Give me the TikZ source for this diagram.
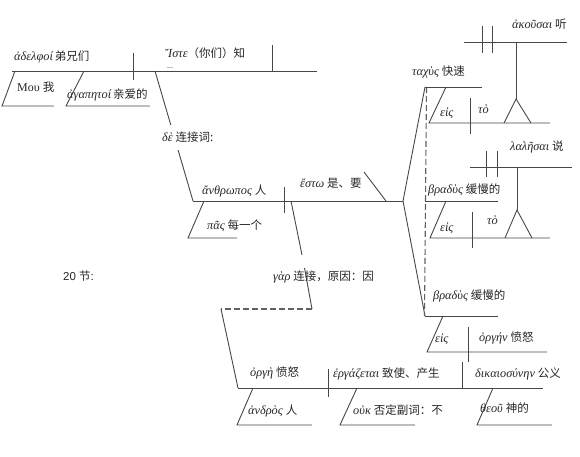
\documentclass[tikz,border=0pt]{standalone}
\usepackage{fontspec}
\setmainfont{Liberation Serif}
\newfontfamily\zhfont{Noto Sans CJK SC}
\newfontfamily\arialfont{Liberation Sans}
\newcommand{\zh}[1]{{\zhfont\fontsize{11.5}{13}\selectfont #1}}
\newcommand{\gr}[1]{{\itshape\fontsize{12.3}{13}\selectfont #1}}
\begin{document}
\begin{tikzpicture}[x=1pt,y=-1pt,
  ln/.style={draw=black!72, line width=0.9pt},
  dsh/.style={draw=black!62, line width=1.1pt, dash pattern=on 6pt off 3pt},
  lbl/.style={anchor=base west, inner sep=0pt, font=\fontsize{11.5}{13}\selectfont, text=black!85}]
\useasboundingbox (0,0) rectangle (580,457);
% ---- verse 19 top clause
\draw[ln] (12,71) -- (317,71);
\draw[ln] (133,53) -- (133,80);
\draw[ln] (272,45) -- (272,71);
\draw[ln] (15,71) -- (2,106) -- (54,106);
\draw[ln] (84,71) -- (66,106) -- (150,106);
\draw[ln] (155,71) -- (193,201);
% ---- main clause
\draw[ln] (193,201) -- (403,201);
\draw[ln] (284,187) -- (284,213);
\draw[ln] (364,172) -- (386,201);
\draw[ln] (204,201) -- (188,238) -- (237,238);
% ---- gar connector
\draw[ln] (291,201) -- (302,255);
\draw[ln] (304.5,268) -- (312,309);
\draw[dsh] (312,309) -- (221,309);
\draw[ln] (221,309) -- (238,388);
% ---- verse 20 clause
\draw[ln] (238,388) -- (543,388);
\draw[ln] (328,369) -- (328,397);
\draw[ln] (462,362) -- (462,388);
\draw[ln] (253,388) -- (237,425) -- (312,425);
\draw[ln] (357,388) -- (340,425) -- (415,425);
\draw[ln] (493,388) -- (477,425) -- (552,425);
% ---- fork
\draw[ln] (425,87) -- (403,201) -- (425,316);
\draw[dsh] (426.5,87) -- (424.5,316);
% upper predicate
\draw[ln] (425,87) -- (482,87);
\draw[ln] (446,87) -- (429,123) -- (550,123);
\draw[ln] (470,98) -- (470,134);
\draw[ln] (504,123) -- (516,99) -- (531,123);
\draw[ln] (516,99) -- (516,42);
\draw[ln] (464,42) -- (567,42);
\draw[ln] (482,26) -- (482,53);
\draw[ln] (492,26) -- (492,53);
% middle predicate
\draw[ln] (425,201) -- (498,201);
\draw[ln] (446,201) -- (430,238) -- (550,238);
\draw[ln] (472,212) -- (472,248);
\draw[ln] (505,238) -- (517,210) -- (532,238);
\draw[ln] (517,210) -- (517,167);
\draw[ln] (470,167) -- (572,167);
\draw[ln] (486,151) -- (486,177);
\draw[ln] (497,151) -- (497,177);
% lower predicate
\draw[ln] (425,316) -- (498,316);
\draw[ln] (443,316) -- (427,352) -- (547,352);
\draw[ln] (468,327) -- (468,362);
% ---- labels
\node[lbl] (t1) at (14,61) {\gr{ἀδελφοί}\,\zh{弟兄们}};
\node[lbl] (t2) at (165,58) {\gr{Ἴστε}\zh{（你们）知}};
\node[lbl, font=\fontsize{8}{9}\selectfont] (t2b) at (167,68.5) {...};
\node[lbl] (t3) at (17,92) {\fontsize{12}{13}\selectfont Μου \zh{我}};
\node[lbl] (t4) at (67,99) {\gr{ἀγαπητοί}\,\zh{亲爱的}};
\node[lbl, fill=white, inner xsep=2pt, inner ysep=7pt] (t5) at (160,142) {\gr{δὲ} \zh{连接词:}};
\node[lbl] (t6) at (202,194) {\gr{ἄνθρωπος} \zh{人}};
\node[lbl] (t7) at (300,187) {\gr{ἔστω} \zh{是、要}};
\node[lbl] (t8) at (207,229) {\gr{πᾶς} \zh{每一个}};
\node[lbl] (t9) at (273,280) {\gr{γὰρ} \zh{连接，原因：因}};
\node[lbl, font=\arialfont\fontsize{11.5}{13}\selectfont] (t10) at (63,280) {20 \zh{节}:};
\node[lbl] (t11) at (250,376) {\gr{ὀργὴ} \zh{愤怒}};
\node[lbl] (t12) at (333,377) {\gr{ἐργάζεται} \zh{致使、产生}};
\node[lbl] (t13) at (475,377) {\gr{δικαιοσύνην} \zh{公义}};
\node[lbl] (t14) at (248,414) {\gr{ἀνδρὸς} \zh{人}};
\node[lbl] (t15) at (353,414) {\gr{οὐκ} \zh{否定副词：不}};
\node[lbl] (t16) at (480,412) {\gr{θεοῦ} \zh{神的}};
\node[lbl] (t17) at (412,76) {\gr{ταχὺς} \zh{快速}};
\node[lbl] (t18) at (512,29) {\gr{ἀκοῦσαι} \zh{听}};
\node[lbl] (t19) at (440,117) {\gr{εἰς}};
\node[lbl] (t20) at (478,114) {\gr{τὸ}};
\node[lbl] (t21) at (510,151) {\gr{λαλῆσαι} \zh{说}};
\node[lbl] (t22) at (428,193) {\gr{βραδὺς} \zh{缓慢的}};
\node[lbl] (t23) at (440,231) {\gr{εἰς}};
\node[lbl] (t24) at (487,224) {\gr{τὸ}};
\node[lbl] (t25) at (433,299) {\gr{βραδὺς} \zh{缓慢的}};
\node[lbl] (t26) at (435,342) {\gr{εἰς}};
\node[lbl] (t27) at (479,341) {\gr{ὀργήν} \zh{愤怒}};
\end{tikzpicture}
\end{document}
